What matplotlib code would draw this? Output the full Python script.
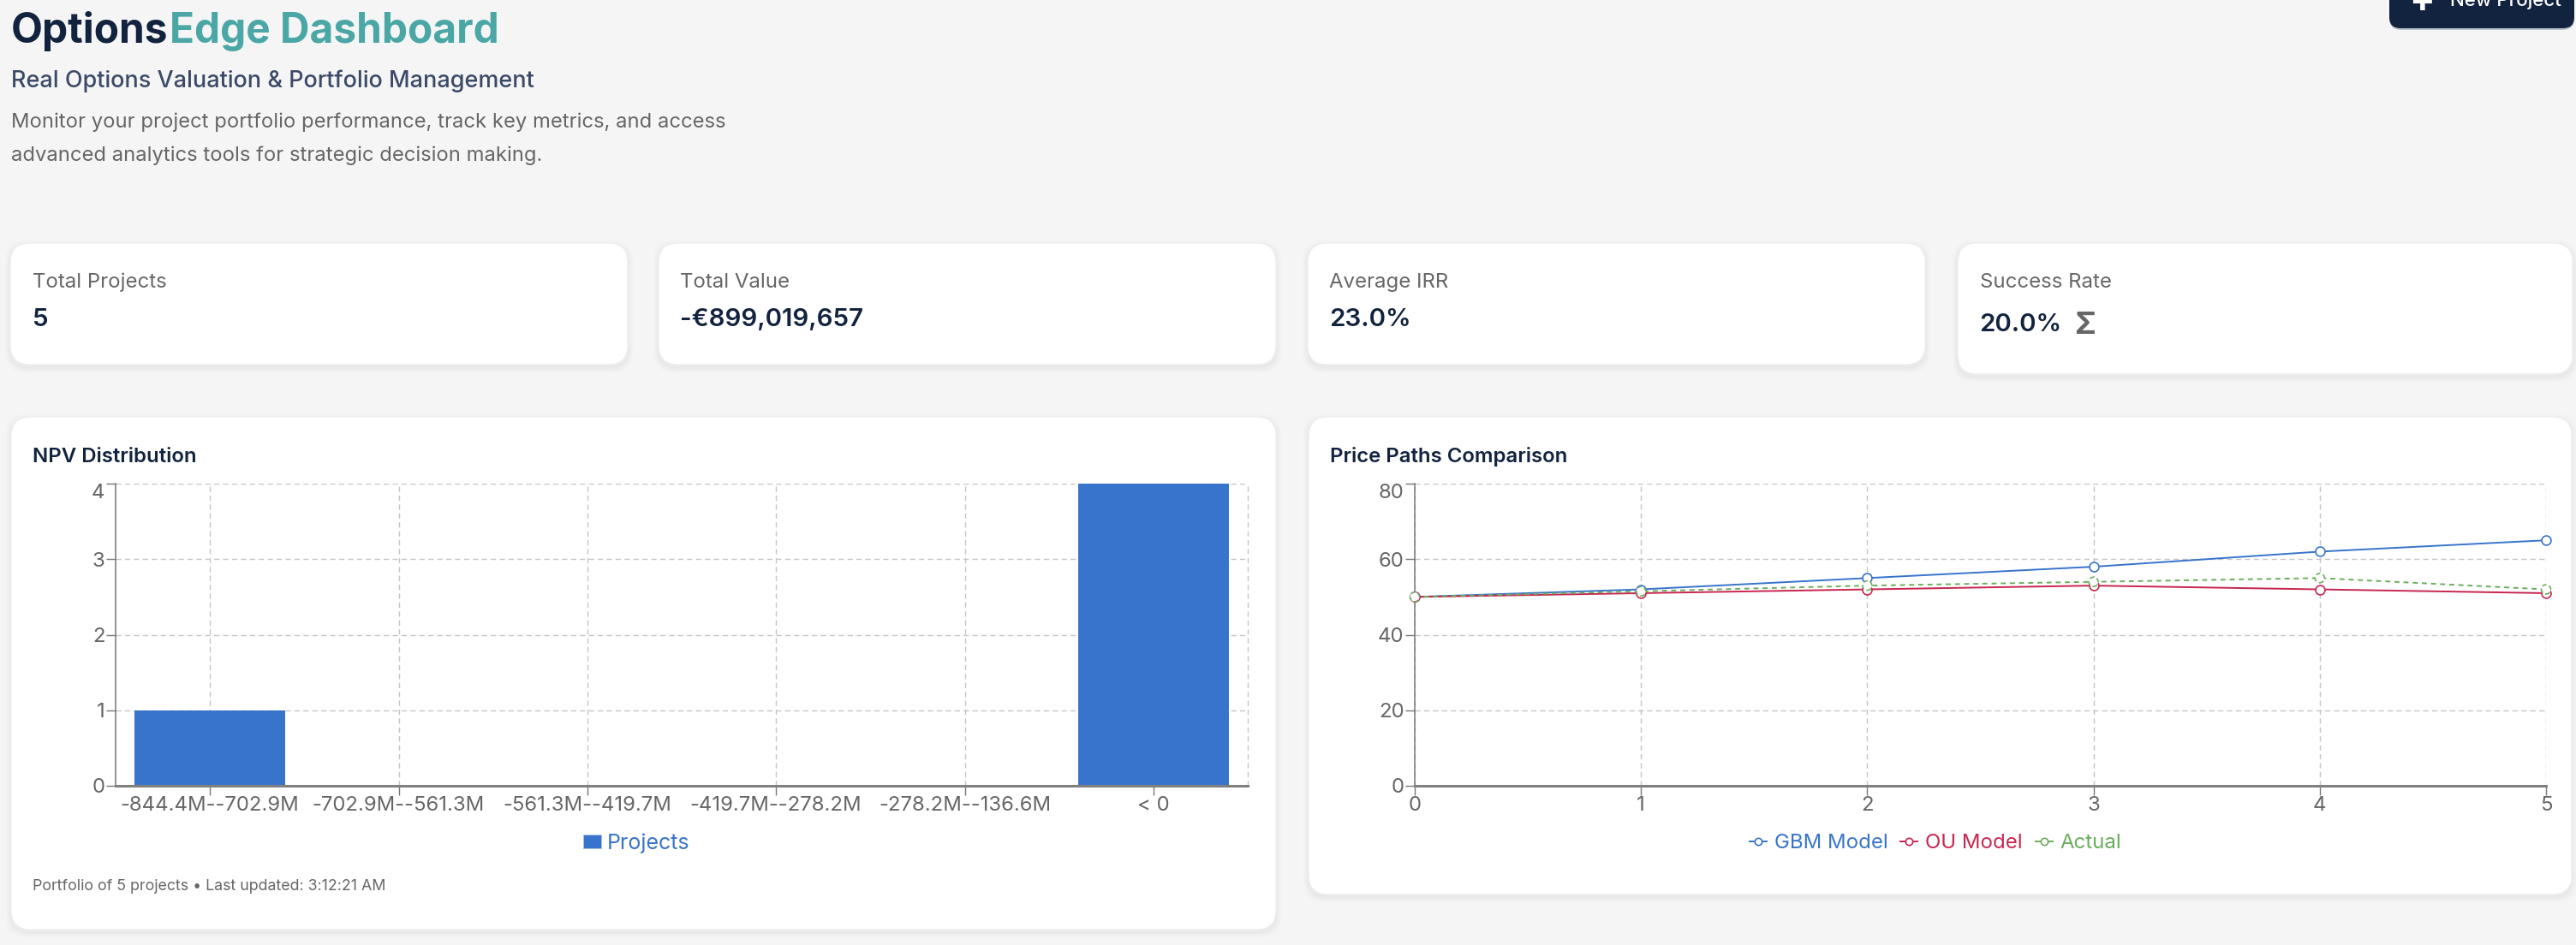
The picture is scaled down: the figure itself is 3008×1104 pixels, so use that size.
# -*- coding: utf-8 -*-
import matplotlib
matplotlib.use('Agg')
import matplotlib.pyplot as plt
from matplotlib.patches import FancyBboxPatch, Patch
from matplotlib.lines import Line2D

plt.rcParams['font.family'] = ['Inter', 'DejaVu Sans']

W, H = 3008, 1104

# data
npv_bins = ['-844.4M--702.9M', '-702.9M--561.3M', '-561.3M--419.7M',
            '-419.7M--278.2M', '-278.2M--136.6M', '< 0']
npv_counts = [1, 0, 0, 0, 0, 4]
npv_ticks = [0, 1, 2, 3, 4]

path_x = [0, 1, 2, 3, 4, 5]
gbm_path = [50, 52, 55, 58, 62, 65]
ou_path = [50, 51, 52, 53, 52, 51]
actual_path = [50, 51.5, 53, 54, 55, 52]
path_ticks = [0, 20, 40, 60, 80]

card_titles = ['Total Projects', 'Total Value', 'Average IRR', 'Success Rate']
card_values = ['5', '-€899,019,657', '23.0%', '20.0%']

NAVY = '#12233f'
TEAL = '#4ba6a6'
GRAY = '#666666'
BLUE = '#3874cb'
RED = '#c8254f'
GREEN = '#6aae5c'
GRID = '#c6c6c6'


def pt(px):
    return px * 0.72


fig = plt.figure(figsize=(W / 100, H / 100), dpi=100, facecolor='#f5f5f5')

# page layer in pixel coordinates
bg = fig.add_axes([0, 0, 1, 1])
bg.set_xlim(0, W)
bg.set_ylim(H, 0)
bg.axis('off')


def card(x0, y0, x1, y1):
    for grow, alpha in [(6, 0.010), (4, 0.014), (2, 0.02)]:
        bg.add_patch(FancyBboxPatch((x0 - grow, y0 - grow + 3), x1 - x0 + 2 * grow, y1 - y0 + 2 * grow,
                                    boxstyle='round,pad=0,rounding_size=24', fc='#102040', ec='none', alpha=alpha))
    bg.add_patch(FancyBboxPatch((x0, y0), x1 - x0, y1 - y0, boxstyle='round,pad=0,rounding_size=23',
                                fc='white', ec='#f0f0f0', lw=1))


# header
bg.text(13, 50, 'Options', fontsize=pt(47.8), fontweight='bold', color=NAVY, va='baseline')
bg.text(197.5, 50, 'Edge Dashboard', fontsize=pt(47.8), fontweight='bold', color=TEAL, va='baseline')
bg.text(13, 102, 'Real Options Valuation & Portfolio Management', fontsize=pt(27), fontweight='medium',
        color='#3c4a68', va='baseline')
bg.text(13, 149, 'Monitor your project portfolio performance, track key metrics, and access',
        fontsize=pt(23.8), color=GRAY, va='baseline')
bg.text(13, 188, 'advanced analytics tools for strategic decision making.',
        fontsize=pt(23.8), color=GRAY, va='baseline')

# new project button, runs off the top of the page
bg.add_patch(FancyBboxPatch((2790, -40), 216, 75, boxstyle='round,pad=0,rounding_size=14', fc='#102040',
                            ec='none', alpha=0.25))
bg.add_patch(FancyBboxPatch((2790, -40), 216, 73, boxstyle='round,pad=0,rounding_size=13', fc=NAVY, ec='none'))
bg.text(2828, 2, '+', fontsize=pt(44), color='white', fontweight='bold', ha='center', va='center')
bg.text(2861, 7, 'New Project', fontsize=pt(22.3), color='white', fontweight='medium', va='baseline')

# stat cards
card_x = [(12, 733), (769, 1490), (1527, 2248), (2286, 3004)]
for i in range(4):
    x0, x1 = card_x[i]
    card(x0, 284, x1, 437 if i == 3 else 426)
    bg.text(x0 + 25.5, 336, card_titles[i], fontsize=pt(24), color=GRAY, va='baseline')
    bg.text(x0 + 25.5, 387 if i == 3 else 381, card_values[i], fontsize=pt(29.5), fontweight='semibold',
            color=NAVY, va='baseline')
bg.text(2435, 380, 'Σ', fontsize=pt(36), fontweight='bold', color=GRAY, ha='center', va='center')

# chart cards
card(13, 487, 1490, 1086)
card(1528, 487, 3003, 1045)
bg.text(38, 540, 'NPV Distribution', fontsize=pt(24), fontweight='semibold', color=NAVY, va='baseline')
bg.text(1553, 540, 'Price Paths Comparison', fontsize=pt(24), fontweight='semibold', color=NAVY, va='baseline')
bg.text(38, 1040, 'Portfolio of 5 projects • Last updated: 3:12:21 AM', fontsize=pt(17.8), color=GRAY,
        va='baseline')


def chart_axes(x0, x1):
    y0, y1 = 565, 918
    ax = fig.add_axes([x0 / W, 1 - y1 / H, (x1 - x0) / W, (y1 - y0) / H], facecolor='none')
    ax.set_axisbelow(True)
    ax.grid(True, color=GRID, lw=1.0, linestyle=(0, (4.5, 3)))
    ax.spines['top'].set_visible(False)
    ax.spines['right'].set_visible(False)
    ax.spines['left'].set_color('#777777')
    ax.spines['left'].set_linewidth(1.1)
    ax.spines['bottom'].set_color('#808080')
    ax.spines['bottom'].set_linewidth(2.2)
    ax.tick_params(axis='both', length=pt(11), width=1.0, color='#777777', labelcolor=GRAY,
                   labelsize=pt(24))
    ax.tick_params(axis='y', pad=1)
    ax.tick_params(axis='x', pad=1)
    return ax


def fix_top_label(ax):
    # the library keeps the top label inside the chart
    ax.get_yticklabels()[-1].set_verticalalignment('top')


# NPV distribution
ax1 = chart_axes(135, 1457)
ax1.bar(range(len(npv_bins)), npv_counts, width=0.8, color=BLUE, zorder=2)
ax1.set_xlim(-0.5, 5.5)
ax1.set_ylim(0, 4)
ax1.set_xticks(range(len(npv_bins)))
ax1.set_xticklabels(npv_bins)
ax1.set_yticks(npv_ticks)
ax1.axvline(5.5, color=GRID, lw=1.0, linestyle=(0, (4.5, 3)), clip_on=False, zorder=1)
fix_top_label(ax1)
ax1.legend(handles=[Patch(fc=BLUE, ec='#a9c3ea', lw=0.6, label='Projects')], loc='center',
           bbox_to_anchor=(743 / W, 1 - 985 / H), bbox_transform=fig.transFigure, frameon=False,
           fontsize=pt(25), labelcolor=BLUE, handlelength=0.85, handleheight=0.62, handletextpad=0.25,
           borderpad=0, borderaxespad=0)

# price paths
ax2 = chart_axes(1652, 2973)
series = [(gbm_path, BLUE, 'solid', 'GBM Model'), (ou_path, RED, 'solid', 'OU Model'),
          (actual_path, GREEN, (0, (3, 2.5)), 'Actual')]
handles = []
for n, (vals, col, ls, lab) in enumerate(series):
    ax2.plot(path_x, vals, color=col, lw=1.4, linestyle=ls, clip_on=False, zorder=3 + n)
    ax2.scatter(path_x, vals, s=62, facecolor='white', edgecolor=col, linewidth=1.2,
                linestyle='solid' if ls == 'solid' else (0, (3, 2)), clip_on=False, zorder=3.5 + n)
    handles.append(Line2D([], [], color=col, lw=1.4, marker='o', ms=6, mfc='white', mec=col, mew=1.2, label=lab))
ax2.set_xlim(0, 5)
ax2.set_ylim(0, 80)
ax2.set_xticks(path_x)
ax2.set_yticks(path_ticks)
fix_top_label(ax2)
ax2.legend(handles=handles, loc='center', bbox_to_anchor=(2260 / W, 1 - 985 / H),
           bbox_transform=fig.transFigure, frameon=False, fontsize=pt(24), labelcolor='linecolor',
           ncol=3, handlelength=0.83, handletextpad=0.37, columnspacing=0.62, borderpad=0, borderaxespad=0)

fig.savefig('out.png', dpi=100, facecolor=fig.get_facecolor())
